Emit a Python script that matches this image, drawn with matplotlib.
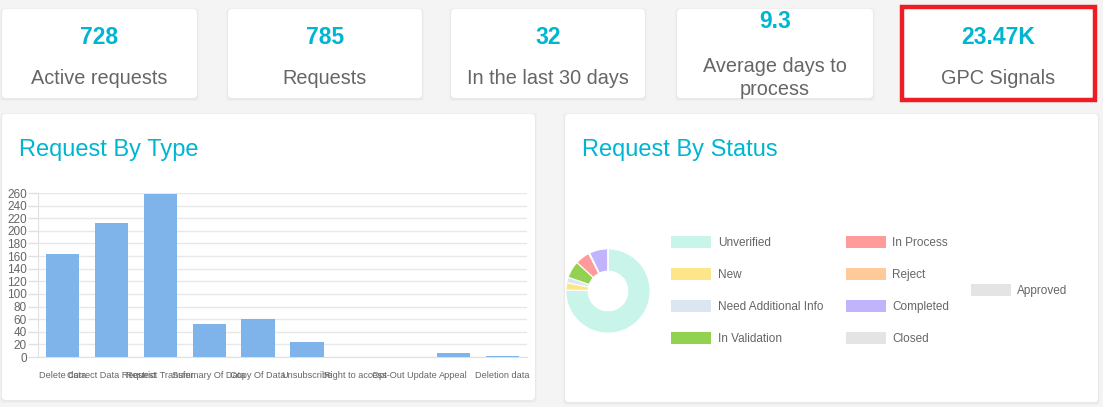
import matplotlib
matplotlib.use("Agg")
import matplotlib.pyplot as plt
from matplotlib.patches import FancyBboxPatch, Rectangle
import numpy as np

plt.rcParams['font.family'] = ['Liberation Sans', 'DejaVu Sans']

# summary cards
card_values = ['728', '785', '32', '9.3', '23.47K']
card_labels = ['Active requests', 'Requests', 'In the last 30 days',
               'Average days to\nprocess', 'GPC Signals']

# request by type
type_names = ['Delete data', 'Correct Data Request', 'Restrict Transfer',
              'Summary Of Data', 'Copy Of Data', 'Unsubscribe',
              'Right to access', 'Opt-Out Update', 'Appeal', 'Deletion data']
type_counts = [164, 212, 258, 53, 60, 24, 0, 0, 7, 2]

# request by status
status_names = ['Unverified', 'New', 'Need Additional Info', 'In Validation',
                'In Process', 'Reject', 'Completed', 'Closed', 'Approved']
status_counts = [578, 22, 16, 50, 43, 3, 55, 0, 0]
status_colors = ['#c9f4ea', '#fde68a', '#dce6f1', '#93d150', '#ff9b9b',
                 '#ffca99', '#c1b4fd', '#e4e4e4', '#e4e4e4']

W, H = 1103, 407
CYAN = '#00b5d1'
GREY = '#666666'


def px_axes(fig, x, y, w, h):
    return fig.add_axes([x / W, 1 - (y + h) / H, w / W, h / H])


fig = plt.figure(figsize=(W / 100, H / 100), dpi=100)
fig.patch.set_facecolor('#f4f4f4')

bg = fig.add_axes([0, 0, 1, 1])
bg.set_xlim(0, W)
bg.set_ylim(H, 0)
bg.axis('off')


def card(x0, y0, x1, y1):
    for k, a in [(4, 0.25), (2, 0.4)]:
        bg.add_patch(FancyBboxPatch((x0 - k / 2, y0 - k / 2 + 1), x1 - x0 + k, y1 - y0 + k,
                                    boxstyle='round,pad=0,rounding_size=4',
                                    fc='#e2e2e2', ec='none', alpha=a))
    bg.add_patch(FancyBboxPatch((x0, y0), x1 - x0, y1 - y0,
                                boxstyle='round,pad=0,rounding_size=4',
                                fc='white', ec='none'))


top_cards = [(2, 197), (228, 422), (451, 645), (677, 873), (903, 1093)]
for i, (x0, x1) in enumerate(top_cards):
    card(x0, 9, x1, 98)
    cx = (x0 + x1) / 2
    if '\n' in card_labels[i]:
        bg.text(cx, 22, card_values[i], color=CYAN, fontsize=16.5, fontweight='bold',
                ha='center', va='center')
        bg.text(cx, 78, card_labels[i], color=GREY, fontsize=14.3, ha='center',
                va='center', linespacing=1.25)
    else:
        bg.text(cx, 38, card_values[i], color=CYAN, fontsize=16.5, fontweight='bold',
                ha='center', va='center')
        bg.text(cx, 78, card_labels[i], color=GREY, fontsize=14.3, ha='center', va='center')

# red highlight
bg.add_patch(Rectangle((902, 6.5), 193, 93, fc='none', ec='#ee1c25', lw=3.2))

card(2, 114, 535, 400)
card(565, 114, 1098, 402)
bg.text(19, 150, 'Request By Type', color=CYAN, fontsize=17, ha='left', va='center')
bg.text(582, 150, 'Request By Status', color=CYAN, fontsize=17, ha='left', va='center')

# bar chart
ax = px_axes(fig, 38, 193, 489, 164)
x = np.arange(len(type_names))
ax.bar(x, type_counts, width=0.68, color='#7eb4ea', zorder=3)
ax.set_xlim(-0.5, len(type_names) - 0.5)
ax.set_ylim(0, 260)
ax.set_yticks(np.arange(0, 261, 20))
ax.set_xticks(x)
ax.set_xticklabels(type_names, fontsize=6.6, color=GREY)
ax.tick_params(axis='y', labelsize=8.5, labelcolor=GREY, color='#e0e0e0', length=7, width=1, pad=1)
ax.tick_params(axis='x', length=0, pad=10)
ax.grid(axis='y', color='#e8e8e8', lw=1, zorder=0)
ax.set_facecolor('white')
for s in ['top', 'right']:
    ax.spines[s].set_visible(False)
ax.spines['left'].set_color('#e0e0e0')
ax.spines['bottom'].set_color('#e0e0e0')

# donut
dax = px_axes(fig, 565, 248, 86, 86)
dax.pie(status_counts, colors=status_colors, startangle=90, counterclock=False,
        radius=1, wedgeprops=dict(width=0.53, edgecolor='white', linewidth=0.8))
dax.set_xlim(-1.02, 1.02)
dax.set_ylim(-1.02, 1.02)
dax.set_aspect('equal')

# legend
cols = [(671, 718), (671, 718), (671, 718), (671, 718),
        (846, 892), (846, 892), (846, 892), (846, 892), (971, 1017)]
rows = [242, 274, 306, 338, 242, 274, 306, 338, 290]
for i, name in enumerate(status_names):
    bx, tx = cols[i]
    by = rows[i]
    bg.add_patch(Rectangle((bx, by - 6), 40, 12, fc=status_colors[i], ec='none'))
    bg.text(tx, by + 1, name, color=GREY, fontsize=8.5, ha='left', va='center')

fig.savefig('out.png', dpi=100, facecolor=fig.get_facecolor())
